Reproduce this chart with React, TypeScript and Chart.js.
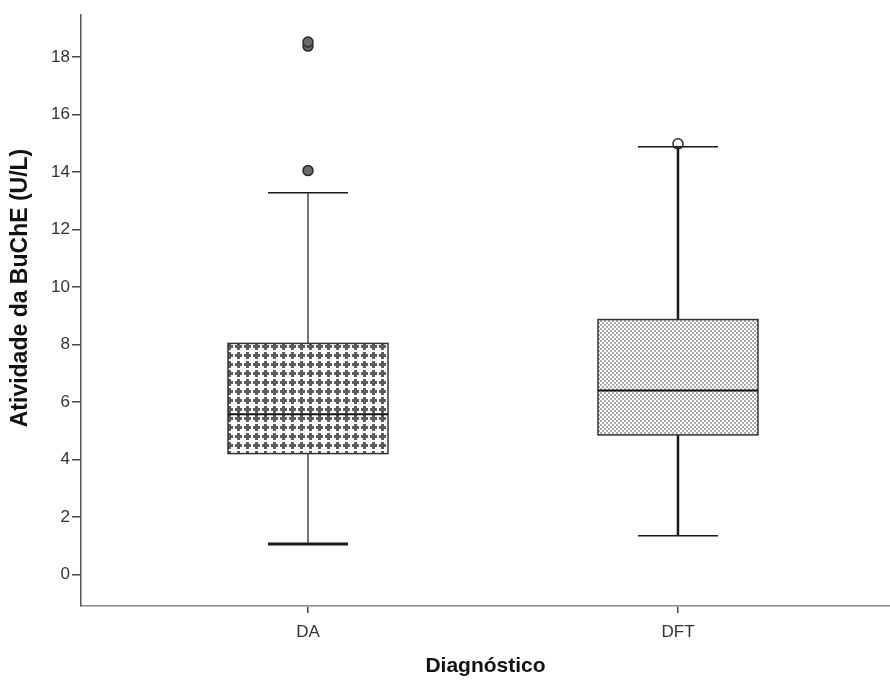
import React, { useEffect, useRef } from "react";
import { Chart, registerables } from "chart.js";

Chart.register(...registerables);

// ---- data ----
const CATEGORIES = ["DA", "DFT"];
const WHISKER_LOW = [1.07, 1.35];
const Q1 = [4.21, 4.86];
const MEDIAN = [5.58, 6.4];
const Q3 = [8.04, 8.87];
const WHISKER_HIGH = [13.28, 14.88];
const OUTLIERS_DA = [14.05, 18.38, 18.52];
const OUTLIERS_DFT = [14.98];
const Y_TICK_STEP = 2;
const Y_TITLE = "Atividade da BuChE (U/L)";
const X_TITLE = "Diagnóstico";

// ---- axis ranges ----
const Y_MIN = -1.09;
const Y_MAX = 19.46;
const X_MIN = -0.6135;
const X_MAX = 1.573;

const FONT = "'Liberation Sans', Arial, Helvetica, sans-serif";

function makeCrossPattern(): CanvasPattern | string {
  const c = document.createElement("canvas");
  c.width = 9;
  c.height = 9;
  const g = c.getContext("2d");
  if (!g) return "#999";
  g.fillStyle = "#ffffff";
  g.fillRect(0, 0, 9, 9);
  g.fillStyle = "#5c5c5c";
  g.fillRect(1, 3, 7, 3);
  g.fillRect(3, 1, 3, 7);
  return g.createPattern(c, "repeat") || "#999";
}

function makeDotPattern(): CanvasPattern | string {
  const c = document.createElement("canvas");
  c.width = 4;
  c.height = 4;
  const g = c.getContext("2d");
  if (!g) return "#ccc";
  g.fillStyle = "#ffffff";
  g.fillRect(0, 0, 4, 4);
  g.fillStyle = "#adadad";
  g.fillRect(0, 0, 2, 2);
  g.fillRect(2, 2, 2, 2);
  return g.createPattern(c, "repeat") || "#ccc";
}

export default function App() {
  const canvasRef = useRef<HTMLCanvasElement | null>(null);

  useEffect(() => {
    if (!canvasRef.current) return;
    const patterns = [makeCrossPattern(), makeDotPattern()];
    const stemWidth = [1.2, 2.5];
    const lowCapWidth = [3, 1.5];
    const highCapWidth = [1.5, 1.5];

    const boxPlugin = {
      id: "boxes",
      beforeDatasetsDraw(chart: any) {
        const { ctx, scales } = chart;
        const x = scales.x;
        const y = scales.y;
        CATEGORIES.forEach((_, i) => {
          const cx = x.getPixelForValue(i);
          const half = 80;
          const capHalf = 40;
          const pLow = y.getPixelForValue(WHISKER_LOW[i]);
          const pHigh = y.getPixelForValue(WHISKER_HIGH[i]);
          const pQ1 = y.getPixelForValue(Q1[i]);
          const pQ3 = y.getPixelForValue(Q3[i]);
          const pMed = y.getPixelForValue(MEDIAN[i]);
          ctx.save();
          ctx.strokeStyle = "#1a1a1a";
          ctx.lineWidth = stemWidth[i];
          ctx.beginPath();
          ctx.moveTo(cx, pHigh);
          ctx.lineTo(cx, pQ3);
          ctx.moveTo(cx, pQ1);
          ctx.lineTo(cx, pLow);
          ctx.stroke();
          ctx.lineWidth = lowCapWidth[i];
          ctx.beginPath();
          ctx.moveTo(cx - capHalf, pLow);
          ctx.lineTo(cx + capHalf, pLow);
          ctx.stroke();
          ctx.lineWidth = highCapWidth[i];
          ctx.beginPath();
          ctx.moveTo(cx - capHalf, pHigh);
          ctx.lineTo(cx + capHalf, pHigh);
          ctx.stroke();
          ctx.fillStyle = patterns[i];
          ctx.fillRect(cx - half, pQ3, half * 2, pQ1 - pQ3);
          ctx.strokeStyle = "#333333";
          ctx.lineWidth = 1.5;
          ctx.strokeRect(cx - half, pQ3, half * 2, pQ1 - pQ3);
          ctx.strokeStyle = "#111111";
          ctx.lineWidth = 2;
          ctx.beginPath();
          ctx.moveTo(cx - half, pMed);
          ctx.lineTo(cx + half, pMed);
          ctx.stroke();
          ctx.restore();
        });
      },
      afterDraw(chart: any) {
        const { ctx } = chart;
        ctx.save();
        ctx.translate(21, 288);
        ctx.rotate(-Math.PI / 2);
        ctx.font = `bold 23px ${FONT}`;
        ctx.fillStyle = "#111111";
        ctx.textAlign = "center";
        ctx.textBaseline = "middle";
        ctx.fillText(Y_TITLE, 0, 0);
        ctx.restore();
      },
    };

    const chart = new Chart(canvasRef.current, {
      type: "scatter",
      data: {
        datasets: [
          {
            label: "DA outliers",
            data: OUTLIERS_DA.map((v) => ({ x: 0, y: v })),
            pointRadius: 5,
            pointBackgroundColor: "#6a6a6a",
            pointBorderColor: "#2a2a2a",
            pointBorderWidth: 1.5,
          },
          {
            label: "DFT outliers",
            data: OUTLIERS_DFT.map((v) => ({ x: 1, y: v })),
            pointRadius: 5,
            pointBackgroundColor: "rgba(255,255,255,0)",
            pointBorderColor: "#2a2a2a",
            pointBorderWidth: 1.5,
          },
        ],
      },
      options: {
        animation: false,
        responsive: false,
        maintainAspectRatio: false,
        devicePixelRatio: 1,
        layout: { autoPadding: false, padding: { top: 15, right: 0, left: 0, bottom: 0 } },
        plugins: {
          legend: { display: false },
          tooltip: { enabled: false },
        },
        scales: {
          x: {
            type: "linear",
            min: X_MIN,
            max: X_MAX,
            afterBuildTicks: (s: any) => {
              s.ticks = CATEGORIES.map((_, i) => ({ value: i }));
            },
            afterFit: (s: any) => {
              s.height = 75;
              s.paddingLeft = 0;
              s.paddingRight = 0;
            },
            ticks: {
              callback: (v: any) => CATEGORIES[v] ?? "",
              font: { family: FONT, size: 17 },
              color: "#333333",
              padding: 9,
              maxRotation: 0,
            },
            grid: {
              display: true,
              drawOnChartArea: false,
              drawTicks: true,
              tickLength: 7,
              color: "#444444",
              lineWidth: 1.5,
            },
            border: { display: true, color: "#8a8a8a", width: 1.5 },
            title: {
              display: true,
              text: X_TITLE,
              font: { family: FONT, size: 21, weight: "bold" },
              color: "#111111",
              padding: { top: 0, bottom: 2 },
            },
          },
          y: {
            type: "linear",
            min: Y_MIN,
            max: Y_MAX,
            afterFit: (s: any) => {
              s.width = 81;
              s.paddingTop = 0;
              s.paddingBottom = 0;
            },
            ticks: {
              stepSize: Y_TICK_STEP,
              includeBounds: false,
              font: { family: FONT, size: 17 },
              color: "#333333",
              padding: 2,
            },
            grid: {
              display: true,
              drawOnChartArea: false,
              drawTicks: true,
              tickLength: 9,
              color: "#444444",
              lineWidth: 1.5,
            },
            border: { display: true, color: "#555555", width: 1.5 },
          },
        },
      },
      plugins: [boxPlugin],
    } as any);
    return () => chart.destroy();
  }, []);

  return (
    <div style={{ position: "absolute", left: 0, top: 0, width: 890, height: 681, background: "#ffffff", overflow: "hidden" }}>
      <canvas ref={canvasRef} width={890} height={681} style={{ display: "block", width: 890, height: 681 }} />
    </div>
  );
}
